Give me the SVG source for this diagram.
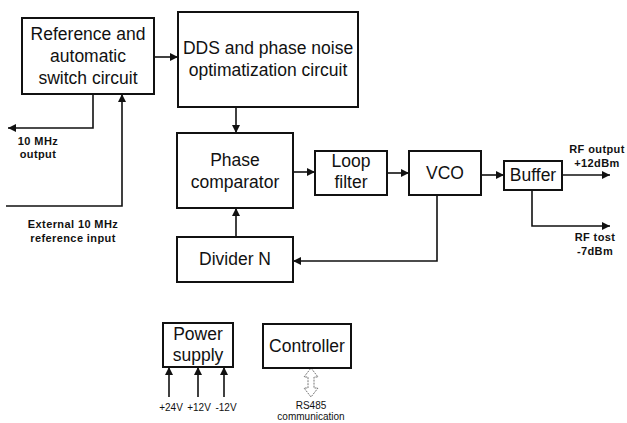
<svg xmlns="http://www.w3.org/2000/svg" width="627" height="423" viewBox="0 0 627 423">
<defs>
<marker id="ah" viewBox="0 0 10 10" refX="10" refY="5" markerWidth="9" markerHeight="8" markerUnits="userSpaceOnUse" orient="auto">
<path d="M0,0 L10,5 L0,10 z" fill="#111"/>
</marker>
</defs>
<style>
.box{fill:#fff;stroke:#111;stroke-width:2}
.t{font-family:"Liberation Sans",Arial,sans-serif;font-size:17.5px;fill:#111;text-anchor:middle}
.s{font-family:"Liberation Sans",Arial,sans-serif;font-size:11px;font-weight:bold;fill:#111;text-anchor:middle;letter-spacing:0.4px}
.p{font-family:"Liberation Sans",Arial,sans-serif;font-size:10px;fill:#111;text-anchor:middle}
.c{fill:none;stroke:#111;stroke-width:1.6;marker-end:url(#ah)}
</style>
<rect width="627" height="423" fill="#fff"/>
<g id="connectors">
<path class="c" d="M154,57 H178"/>
<path class="c" d="M93,94 V128 H8"/>
<path class="c" d="M6,206 H122 V94"/>
<path class="c" d="M236,107 V133"/>
<path class="c" d="M236,237 V208"/>
<path class="c" d="M293,172 H315"/>
<path class="c" d="M387,173 H409"/>
<path class="c" d="M481,175 H504"/>
<path class="c" d="M562,175 H610"/>
<path class="c" d="M532,190 V226 H610"/>
<path class="c" d="M437,195 V261 H293"/>
<path class="c" d="M169,397 V367"/>
<path class="c" d="M198,397 V367"/>
<path class="c" d="M224,397 V367"/>
<path d="M311,368 L318,377 L314,377 L314,388 L318,388 L311,397 L304,388 L308,388 L308,377 L304,377 Z" fill="#fff" stroke="#777" stroke-width="1" stroke-dasharray="2,1"/>
</g>
<g id="ref">
<rect class="box" x="22" y="18" width="132" height="76"/>
<text class="t" x="88" y="40">Reference and</text>
<text class="t" x="88" y="62">automatic</text>
<text class="t" x="88" y="84">switch circuit</text>
</g>
<g id="dds">
<rect class="box" x="178" y="12" width="180" height="95"/>
<text class="t" x="268" y="54">DDS and phase noise</text>
<text class="t" x="268" y="76">optimatization circuit</text>
</g>
<g id="phasecomp">
<rect class="box" x="177" y="133" width="116" height="75"/>
<text class="t" x="235" y="166">Phase</text>
<text class="t" x="235" y="188">comparator</text>
</g>
<g id="divider">
<rect class="box" x="177" y="237" width="116" height="45"/>
<text class="t" x="235" y="265">Divider N</text>
</g>
<g id="loop">
<rect class="box" x="315" y="151" width="72" height="44"/>
<text class="t" x="351" y="167">Loop</text>
<text class="t" x="351" y="188">filter</text>
</g>
<g id="vco">
<rect class="box" x="409" y="151" width="72" height="44"/>
<text class="t" x="445" y="179">VCO</text>
</g>
<g id="buffer">
<rect class="box" x="504" y="161" width="58" height="29"/>
<text class="t" x="533" y="181">Buffer</text>
</g>
<g id="power">
<rect class="box" x="163" y="323" width="70" height="44"/>
<text class="t" x="198" y="340">Power</text>
<text class="t" x="198" y="361">supply</text>
</g>
<g id="controller">
<rect class="box" x="263" y="324" width="88" height="44"/>
<text class="t" x="307" y="352">Controller</text>
</g>
<g id="labels">
<text class="s" x="38" y="145">10 MHz</text>
<text class="s" x="38" y="158">output</text>
<text class="s" x="73" y="228">External 10 MHz</text>
<text class="s" x="73" y="242">reference input</text>
<text class="s" x="597" y="153">RF output</text>
<text class="s" x="597" y="167">+12dBm</text>
<text class="s" x="595" y="241">RF tost</text>
<text class="s" x="595" y="255">-7dBm</text>
<text class="p" x="171" y="411">+24V</text>
<text class="p" x="199" y="411">+12V</text>
<text class="p" x="226" y="411">-12V</text>
<text class="p" x="311" y="409">RS485</text>
<text class="p" x="311" y="420">communication</text>
</g>
</svg>
